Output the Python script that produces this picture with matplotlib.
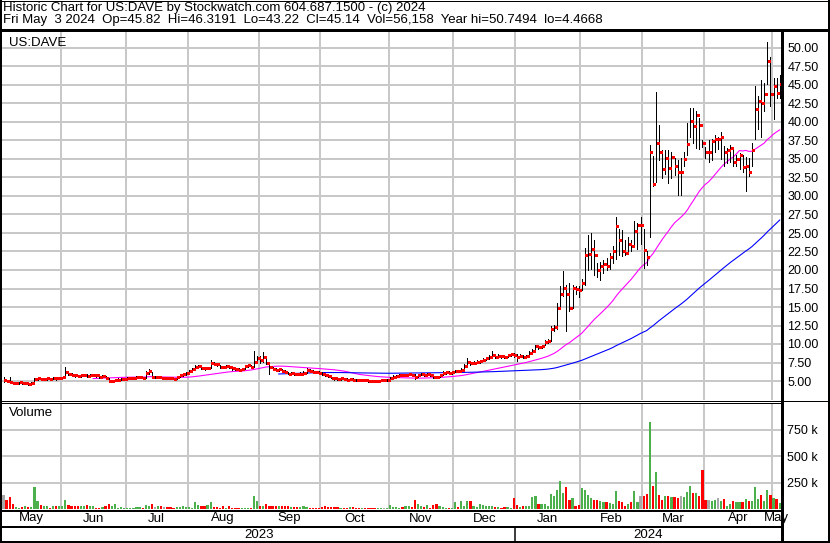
import numpy as np
import pandas as pd
import matplotlib
matplotlib.use("Agg")
import matplotlib.pyplot as plt
from matplotlib.lines import Line2D

plt.rcParams["font.family"] = ["Liberation Sans", "DejaVu Sans"]

W, H = 830, 543

# trading days on the chart: one year up to Fri May 3 2024
holidays = ["2023-05-29", "2023-06-19", "2023-07-04", "2023-09-04", "2023-11-23",
            "2023-12-25", "2024-01-01", "2024-01-15", "2024-02-19", "2024-03-29"]
dates = pd.bdate_range("2023-05-04", "2024-05-03")
dates = dates[~dates.isin(pd.to_datetime(holidays))]

close = [
    # May 2023
    5.15, 5.0, 4.85, 4.7, 4.75, 4.8, 4.7, 4.75, 4.65, 4.7, 5.3, 5.35, 5.25, 5.3, 5.35, 5.33, 5.4, 5.35, 5.45,
    # Jun
    5.5, 6.2, 6.0, 5.85, 5.75, 5.7, 5.75, 5.8, 5.7, 5.75, 5.8, 5.75, 5.6, 5.65, 5.4, 5.0, 5.05, 5.15, 5.2, 5.25, 5.3,
    # Jul
    5.35, 5.4, 5.45, 5.5, 5.55, 5.45, 6.1, 6.3, 5.5, 5.5, 5.55, 5.45, 5.45, 5.4, 5.35, 5.3, 5.6, 5.75, 5.9, 6.05,
    # Aug
    6.4, 6.6, 6.9, 7.0, 6.8, 6.7, 6.75, 7.4, 7.3, 7.25, 6.9, 6.85, 7.0, 6.95, 6.7, 6.6, 6.55, 6.6, 7.0, 7.1, 6.95, 7.6, 8.05,
    # Sep
    7.9, 8.3, 7.5, 6.9, 6.6, 6.55, 6.6, 6.3, 6.25, 6.0, 6.05, 6.0, 5.95, 6.0, 6.1, 6.45, 6.4, 6.25, 6.2, 6.1,
    # Oct
    6.0, 5.85, 5.7, 5.45, 5.35, 5.3, 5.35, 5.25, 5.2, 5.25, 5.2, 5.15, 5.1, 5.15, 5.1, 5.05, 5.0, 4.95, 5.05, 5.1, 5.1, 5.15,
    # Nov
    5.4, 5.6, 5.7, 5.85, 5.8, 5.85, 5.9, 5.85, 5.6, 5.85, 5.9, 5.85, 5.9, 5.85, 5.6, 5.5, 5.85, 6.1, 6.15, 6.1, 6.2,
    # Dec
    6.4, 6.3, 6.5, 7.0, 7.6, 7.4, 7.5, 7.6, 7.7, 7.9, 8.1, 8.3, 8.5, 8.3, 8.4, 8.35, 8.3, 8.5, 8.6, 8.5,
    # Jan 2024
    8.3, 8.4, 8.3, 8.35, 8.8, 9.0, 9.7, 9.6, 9.7, 10.3, 10.4, 12.0, 12.3, 14.8, 16.7, 17.6, 16.7, 14.8, 17.6, 17.4, 17.3,
    # Feb
    18.3, 22.0, 22.1, 22.8, 22.0, 20.0, 20.6, 20.8, 20.6, 21.7, 22.6, 26.0, 24.0, 22.5, 22.3, 23.5, 23.3, 25.3, 26.1, 26.1,
    # Mar
    22.7, 21.8, 35.9, 31.6, 37.1, 35.9, 33.65, 35.1, 33.8, 35.3, 34.1, 33.2, 33.2, 35.0, 37.0, 40.2, 39.5, 40.9, 39.55, 37.2,
    # Apr
    35.9, 35.9, 37.4, 37.7, 37.7, 38.0, 35.9, 36.2, 36.5, 34.55, 35.0, 35.5, 33.9, 34.1, 33.2, 36.2, 41.8, 42.9, 42.6, 43.8, 48.2, 43.8,
    # May
    44.9, 43.9, 45.14,
]

high = [
    5.5, 5.2, 5.6, 4.9, 4.85, 4.9, 4.85, 4.85, 4.8, 4.8, 5.45, 5.5, 5.4, 5.45, 5.5, 5.45, 5.6, 5.5, 5.6,
    5.6, 6.9, 6.3, 6.05, 5.95, 5.85, 5.9, 5.95, 5.9, 5.9, 5.95, 5.9, 5.8, 5.8, 5.7, 5.45, 5.2, 5.3, 5.35, 5.4, 5.45,
    5.5, 5.55, 5.6, 5.65, 5.7, 5.6, 6.4, 6.6, 6.2, 5.65, 5.7, 5.6, 5.6, 5.55, 5.5, 5.45, 5.7, 5.85, 6.0, 6.2,
    6.55, 6.8, 7.1, 7.2, 7.05, 6.9, 6.95, 7.8, 7.6, 7.45, 7.2, 7.0, 7.15, 7.1, 6.95, 6.8, 6.7, 6.8, 7.2, 7.3, 7.2, 9.0, 8.4,
    8.4, 8.95, 8.4, 7.5, 6.9, 6.8, 6.8, 6.6, 6.45, 6.2, 6.2, 6.15, 6.1, 6.15, 6.3, 6.7, 6.6, 6.45, 6.35, 6.3,
    6.15, 6.0, 5.85, 5.7, 5.5, 5.45, 5.5, 5.4, 5.35, 5.4, 5.35, 5.3, 5.25, 5.3, 5.25, 5.2, 5.15, 5.1, 5.2, 5.25, 5.25, 5.3,
    5.5, 5.75, 5.85, 6.0, 5.95, 6.0, 6.05, 6.0, 5.9, 6.0, 6.05, 6.0, 6.05, 6.0, 5.9, 5.7, 6.0, 6.3, 6.35, 6.3, 6.35,
    6.55, 6.5, 6.7, 7.3, 8.1, 7.7, 7.7, 7.8, 7.9, 8.1, 8.3, 8.5, 9.1, 8.6, 8.6, 8.55, 8.5, 8.7, 8.8, 8.75,
    8.6, 8.6, 8.5, 8.55, 9.0, 9.3, 9.9, 9.9, 9.9, 10.6, 10.7, 12.4, 12.6, 15.6, 17.8, 19.9, 18.0, 18.3, 18.0, 17.9, 17.8,
    18.8, 23.0, 24.7, 25.0, 24.1, 20.9, 21.1, 21.3, 21.6, 22.3, 23.2, 27.2, 25.5, 25.4, 24.1, 24.5, 24.1, 26.6, 26.4, 27.2,
    25.5, 22.5, 36.9, 35.4, 44.1, 39.6, 36.2, 36.2, 36.2, 36.0, 35.1, 34.9, 35.1, 35.9, 39.9, 41.9, 41.9, 41.5, 40.6, 37.5,
    36.6, 37.5, 37.7, 38.2, 38.0, 38.6, 36.8, 36.5, 36.9, 36.2, 35.5, 35.8, 35.5, 35.3, 35.1, 37.2, 44.9, 43.5, 45.7, 45.3, 50.75, 48.8,
    45.9, 45.9, 46.32,
]

low = [
    4.9, 4.8, 4.7, 4.55, 4.6, 4.65, 4.6, 4.6, 4.47, 4.55, 4.75, 5.15, 5.1, 5.15, 5.2, 5.2, 5.25, 5.2, 5.3,
    5.35, 5.45, 5.85, 5.7, 5.6, 5.55, 5.6, 5.65, 5.55, 5.6, 5.65, 5.6, 5.45, 5.5, 5.3, 4.9, 4.85, 5.0, 5.05, 5.1, 5.15,
    5.2, 5.3, 5.35, 5.4, 5.4, 5.35, 5.45, 6.0, 5.4, 5.4, 5.45, 5.35, 5.35, 5.3, 5.25, 5.2, 5.3, 5.55, 5.7, 5.85,
    6.2, 6.35, 6.6, 6.8, 6.65, 6.55, 6.6, 6.7, 7.1, 7.05, 6.75, 6.7, 6.8, 6.8, 6.55, 6.45, 6.4, 6.45, 6.6, 6.9, 6.8, 6.9, 7.5,
    7.5, 7.6, 7.3, 6.0, 6.45, 6.4, 6.4, 6.2, 6.1, 5.9, 5.9, 5.85, 5.8, 5.85, 5.95, 6.05, 6.2, 6.1, 6.05, 5.95,
    5.85, 5.7, 5.55, 5.35, 5.2, 5.2, 5.2, 5.1, 5.05, 5.1, 5.05, 5.0, 4.95, 5.0, 4.95, 4.9, 4.85, 4.8, 4.9, 4.95, 5.0, 5.0,
    5.2, 5.4, 5.55, 5.7, 5.65, 5.7, 5.75, 5.7, 5.3, 5.6, 5.75, 5.7, 5.75, 5.7, 5.45, 5.35, 5.5, 5.85, 6.0, 5.95, 6.0,
    6.15, 6.2, 6.3, 6.5, 7.0, 7.2, 7.3, 7.4, 7.45, 7.65, 7.85, 8.0, 8.2, 8.05, 8.1, 8.15, 8.1, 8.2, 8.35, 8.25,
    7.7, 8.2, 8.1, 8.15, 8.3, 8.6, 9.0, 9.3, 9.4, 9.8, 10.1, 10.4, 11.8, 12.0, 15.0, 16.5, 11.8, 14.5, 14.8, 16.8, 16.3,
    17.3, 18.0, 20.0, 20.2, 19.3, 19.1, 18.6, 19.6, 20.0, 20.2, 21.0, 21.5, 22.0, 21.9, 22.0, 22.2, 22.6, 23.5, 22.8, 23.5,
    20.3, 20.7, 24.5, 31.3, 31.9, 34.9, 32.4, 33.0, 31.8, 32.4, 32.8, 30.2, 30.2, 34.1, 35.6, 38.0, 37.1, 36.5, 36.3, 36.6,
    35.2, 34.6, 34.8, 36.0, 36.3, 35.0, 34.1, 34.4, 34.6, 34.1, 34.0, 33.7, 33.2, 30.7, 32.7, 34.1, 37.7, 39.0, 38.0, 41.5, 45.2, 42.2,
    40.4, 43.2, 43.22,
]

# daily volume, thousands of shares
volume_k = [
    129, 82, 110, 50, 19, 9, 19, 31, 19, 19, 204, 72, 41, 31, 31, 10, 25, 31, 31,
    31, 88, 41, 31, 31, 31, 31, 31, 41, 25, 31, 10, 9, 16, 25, 50, 25, 50, 9, 19, 9,
    9, 8, 9, 16, 19, 9, 41, 25, 50, 19, 25, 31, 19, 19, 16, 9, 16, 19, 25, 19,
    19, 9, 63, 41, 25, 25, 41, 63, 19, 19, 9, 31, 9, 31, 9, 9, 9, 9, 9, 9, 9, 126, 72,
    25, 25, 50, 31, 25, 31, 25, 31, 31, 25, 19, 19, 19, 19, 31, 19, 9, 9, 9, 9,
    19, 31, 19, 19, 19, 19, 9, 9, 9, 19, 19, 9, 9, 9, 9, 9, 9, 9, 9, 9, 9, 9,
    41, 19, 19, 9, 19, 25, 25, 19, 82, 50, 25, 16, 41, 12, 41, 50, 31, 19, 9, 9, 9,
    63, 19, 72, 31, 72, 72, 31, 19, 50, 41, 31, 25, 31, 19, 19, 12, 19, 19, 9, 100,
    41, 16, 31, 31, 25, 110, 126, 50, 50, 50, 25, 145, 120, 182, 267, 151, 207, 88, 100, 31, 41,
    201, 176, 135, 104, 88, 82, 75, 69, 63, 57, 50, 173, 72, 63, 31, 50, 63, 173, 69, 120,
    126, 145, 827, 220, 346, 135, 88, 120, 120, 113, 113, 104, 120, 110, 163, 220, 151, 151, 120, 365,
    88, 88, 72, 88, 104, 72, 94, 31, 50, 72, 63, 63, 63, 94, 72, 79, 207, 97, 135, 72, 182, 135,
    104, 97, 56,
]

header1 = "Historic Chart for US:DAVE by Stockwatch.com 604.687.1500 - (c) 2024"
header2 = ("Fri May  3 2024  Op=45.82  Hi=46.3191  Lo=43.22  Cl=45.14  Vol=56,158  "
           "Year hi=50.7494  lo=4.4668")

close = np.array(close)
high = np.array(high)
low = np.array(low)
volume = np.array(volume_k) * 1000.0
n = len(dates)
idx = np.arange(n)

ma_fast = pd.Series(close).rolling(30).mean()
ma_slow = pd.Series(close).rolling(90).mean()

chg = np.diff(close, prepend=np.nan)
vol_colors = np.where(chg > 0, "#4cb04c", np.where(chg < 0, "#ff0000", "#a8a8a8"))

month_id = np.asarray(dates.year * 12 + dates.month)
starts = np.flatnonzero(np.diff(month_id, prepend=-1))
ends = np.append(starts[1:] - 1, n - 1)
year_starts = np.flatnonzero(np.diff(np.asarray(dates.year), prepend=-1))
year_ends = np.append(year_starts[1:] - 1, n - 1)

XMIN, XMAX = -0.49, n - 0.58
GRID = "#c8c8c8"
PX = 0.72  # points per pixel at dpi 100


def rect(x0, y0, x1, y1):
    return [x0 / W, 1 - y1 / H, (x1 - x0) / W, (y1 - y0) / H]


def price_at(y):
    return 5 + (381 - y) / 7.4


fig = plt.figure(figsize=(W / 100, H / 100), dpi=100)

# price panel
ax_p = fig.add_axes(rect(2, 31.5, 781, 400))
ax_p.set_xlim(XMIN, XMAX)
ax_p.set_ylim(price_at(400), price_at(31.5))
ticks = np.arange(5, 50.01, 2.5)
for t in ticks:
    ax_p.axhline(t, color=GRID, lw=1.5 * PX, zorder=0, antialiased=False)
for s in starts[1:]:
    ax_p.axvline(s - 0.5, color=GRID, lw=1.5 * PX, zorder=0, antialiased=False)
ax_p.vlines(idx, low, high, color="black", lw=1.0 * PX, zorder=2, antialiased=False)
ax_p.plot(idx + 0.5, close, "s", ms=3.0 * PX, color="#ff0000", mew=0, zorder=3,
          antialiased=False)
ax_p.plot(idx, ma_fast, color="#ff00ff", lw=1.1 * PX, zorder=1)
ax_p.plot(idx, ma_slow, color="#0000ff", lw=1.1 * PX, zorder=1)
ax_p.set_xticks([])
ax_p.yaxis.tick_right()
ax_p.set_yticks(ticks)
ax_p.set_yticklabels([f"{t:.2f}" for t in ticks])
ax_p.tick_params(axis="y", length=0, pad=4.5, labelsize=9)
for sp in ax_p.spines.values():
    sp.set_visible(False)
fig.text(9 / W, 1 - 43 / H, "US:DAVE", fontsize=9.5, va="center")

# volume panel
ax_v = fig.add_axes(rect(2, 403.5, 781, 509))
ax_v.set_xlim(XMIN, XMAX)
ax_v.set_ylim(0, 1.0e6)
vticks = [250000, 500000, 750000]
for t in vticks:
    ax_v.axhline(t, color=GRID, lw=1.5 * PX, zorder=0, antialiased=False)
for s in starts[1:]:
    ax_v.axvline(s - 0.5, color=GRID, lw=1.5 * PX, zorder=0, antialiased=False)
ax_v.bar(idx, volume, width=0.72, color=vol_colors, linewidth=0, zorder=2)
ax_v.set_xticks([])
ax_v.yaxis.tick_right()
ax_v.set_yticks(vticks)
ax_v.set_yticklabels([f"{t // 1000} k" for t in vticks])
ax_v.tick_params(axis="y", length=0, pad=4.5, labelsize=9)
for sp in ax_v.spines.values():
    sp.set_visible(False)
fig.text(9 / W, 1 - 413 / H, "Volume", fontsize=9.5, va="center")

# month / year rows
ax_b = fig.add_axes(rect(2, 511, 781, 542))
ax_b.set_xlim(XMIN, XMAX)
ax_b.set_ylim(542, 511)
ax_b.axis("off")
for s, e in zip(starts, ends):
    c = (max(s - 0.5, XMIN) + min(e + 0.5, XMAX + 1.0)) / 2
    ax_b.text(c, 518.5, dates[s].strftime("%b"), ha="center", va="center", fontsize=9.5, zorder=1)
for s, e in zip(year_starts, year_ends):
    c = (max(s - 0.5, XMIN) + min(e + 0.5, XMAX)) / 2
    ax_b.text(c, 534.5, str(dates[s].year), ha="center", va="center", fontsize=9.5)
for s in year_starts[1:]:
    ax_b.plot([s - 0.5, s - 0.5], [527, 542], color="black", lw=1.5 * PX, clip_on=False)

# header
fig.text(3 / W, 1 - 7.5 / H, header1, fontsize=9.5, va="center")
fig.text(3 / W, 1 - 19.5 / H, header2, fontsize=9.5, va="center")


def hline(y, x0, x1, lw):
    fig.add_artist(Line2D([x0 / W, x1 / W], [1 - y / H, 1 - y / H], color="black",
                          lw=lw * PX, transform=fig.transFigure, zorder=5))


def vline(x, y0, y1, lw):
    fig.add_artist(Line2D([x / W, x / W], [1 - y0 / H, 1 - y1 / H], color="black",
                          lw=lw * PX, transform=fig.transFigure, zorder=5))


hline(0.5, 0, 830, 1)
hline(30, 0, 830, 3)
hline(400.5, 0, 830, 1)
hline(403, 0, 782, 1)
hline(511, 0, 782, 2)
hline(526.7, 0, 782, 2)
hline(542, 0, 830, 2)
vline(1, 0, 543, 2)
vline(782, 30, 543, 3)
vline(829, 0, 543, 2)

fig.savefig("out.png", dpi=100)
